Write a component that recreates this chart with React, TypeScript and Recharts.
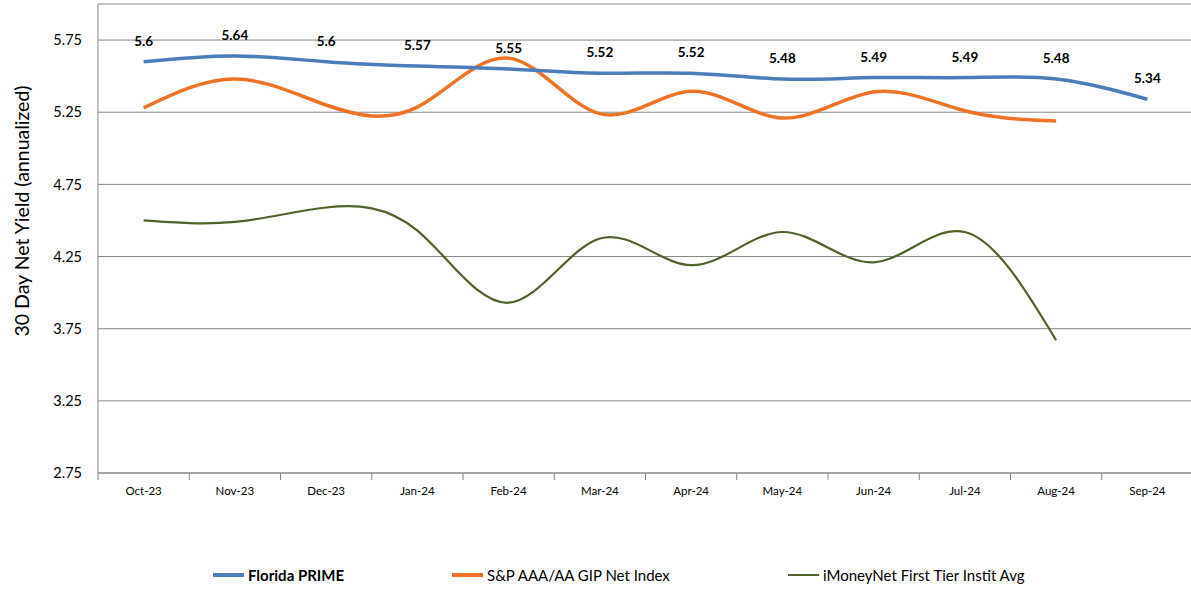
import {
  LineChart,
  Line,
  XAxis,
  YAxis,
  CartesianGrid,
  Legend,
  LabelList,
} from "recharts";

const months = ["Oct-23", "Nov-23", "Dec-23", "Jan-24", "Feb-24", "Mar-24", "Apr-24", "May-24", "Jun-24", "Jul-24", "Aug-24", "Sep-24"];
const floridaPrime = [5.6, 5.64, 5.6, 5.57, 5.55, 5.52, 5.52, 5.48, 5.49, 5.49, 5.48, 5.34];
const spIndex = [5.28, 5.48, 5.3, 5.285, 5.625, 5.24, 5.395, 5.21, 5.39, 5.26, 5.19, null];
const iMoneyNet = [4.5, 4.49, 4.59, 4.43, 3.93, 4.375, 4.19, 4.42, 4.21, 4.42, 3.67, null];
const yTicks = [2.75, 3.25, 3.75, 4.25, 4.75, 5.25, 5.75];

const seriesInfo = [
  { key: "prime", name: "Florida PRIME", color: "#4a7ebb", width: 3.5, bold: true, left: 213 },
  { key: "sp", name: "S&P AAA/AA GIP Net Index", color: "#ee7326", width: 3.5, bold: false, left: 452 },
  { key: "imn", name: "iMoneyNet First Tier Instit Avg", color: "#4f6228", width: 2.2, bold: false, left: 788 },
];

const data = months.map((m, i) => ({
  month: m,
  prime: floridaPrime[i],
  sp: spIndex[i],
  imn: iMoneyNet[i],
}));

const FONT = "Lato, 'Open Sans', sans-serif";
const PLOT_LEFT = 98;
const PLOT_RIGHT = 1193;
const BAND = (PLOT_RIGHT - PLOT_LEFT) / months.length;
const LEGEND_H = 24;
const XAXIS_H = 40;

const MonthTick = ({ x, y, payload }: any) => (
  <g>
    <line x1={x - BAND / 2} x2={x - BAND / 2} y1={y - 8} y2={y - 1} stroke="#868686" strokeWidth={1} />
    <text x={x} y={y + 14} textAnchor="middle" fontSize={11.5} fontFamily={FONT} fill="#000">
      {payload.value}
    </text>
  </g>
);

// axis title sits off-centre in the original, so place it by hand
const YTitle = () => (
  <text
    x={0}
    y={0}
    transform="translate(29, 211) rotate(-90)"
    textAnchor="middle"
    fontSize={19.5}
    fontFamily={FONT}
    fill="#000"
  >
    30 Day Net Yield (annualized)
  </text>
);

const LegendContent = () => (
  <div style={{ position: "relative", width: 1191, height: LEGEND_H }}>
    {seriesInfo.map((s) => (
      <div
        key={s.key}
        style={{
          position: "absolute",
          left: s.left,
          top: 0,
          display: "flex",
          alignItems: "center",
          fontFamily: FONT,
          fontSize: 15,
          fontWeight: s.bold ? 700 : 400,
          color: "#000",
          whiteSpace: "nowrap",
        }}
      >
        <span style={{ display: "inline-block", width: 31, height: s.width, background: s.color, marginRight: 4 }} />
        {s.name}
      </div>
    ))}
  </div>
);

export default function App() {
  return (
    <div style={{ position: "absolute", left: 0, top: 0, background: "#fff" }}>
      <LineChart
        width={1193}
        height={591}
        data={data}
        margin={{ top: 4, right: 0, bottom: 118 - XAXIS_H - LEGEND_H, left: 0 }}
      >
        <CartesianGrid horizontal vertical={false} stroke="#868686" strokeWidth={1} />
        <XAxis
          dataKey="month"
          padding={{ left: BAND / 2, right: BAND / 2 }}
          tickLine={false}
          axisLine={{ stroke: "#868686" }}
          tick={<MonthTick />}
          interval={0}
          height={XAXIS_H}
        />
        <YAxis
          width={PLOT_LEFT}
          domain={[2.75, 6.0]}
          ticks={yTicks}
          allowDataOverflow
          tickLine={false}
          axisLine={{ stroke: "#868686" }}
          tick={{ fontSize: 14.5, fontFamily: FONT, fill: "#000" }}
          tickFormatter={(v: number) => v.toFixed(2)}
          tickMargin={10}
          label={<YTitle />}
        />
        <Legend
          content={<LegendContent />}
          height={LEGEND_H}
          wrapperStyle={{ position: "absolute", left: 0, top: 566, width: 1191 }}
        />
        <Line
          type="natural"
          dataKey="imn"
          name="iMoneyNet First Tier Instit Avg"
          stroke="#4f6228"
          strokeWidth={2.2}
          dot={false}
          isAnimationActive={false}
        />
        <Line
          type="natural"
          dataKey="sp"
          name="S&P AAA/AA GIP Net Index"
          stroke="#ee7326"
          strokeWidth={3.5}
          dot={false}
          isAnimationActive={false}
        />
        <Line
          type="natural"
          dataKey="prime"
          name="Florida PRIME"
          stroke="#4a7ebb"
          strokeWidth={3.5}
          dot={false}
          isAnimationActive={false}
        >
          <LabelList
            dataKey="prime"
            position="top"
            offset={16}
            style={{ fontSize: 13.5, fontWeight: 700, fontFamily: FONT, fill: "#000" }}
          />
        </Line>
      </LineChart>
    </div>
  );
}
